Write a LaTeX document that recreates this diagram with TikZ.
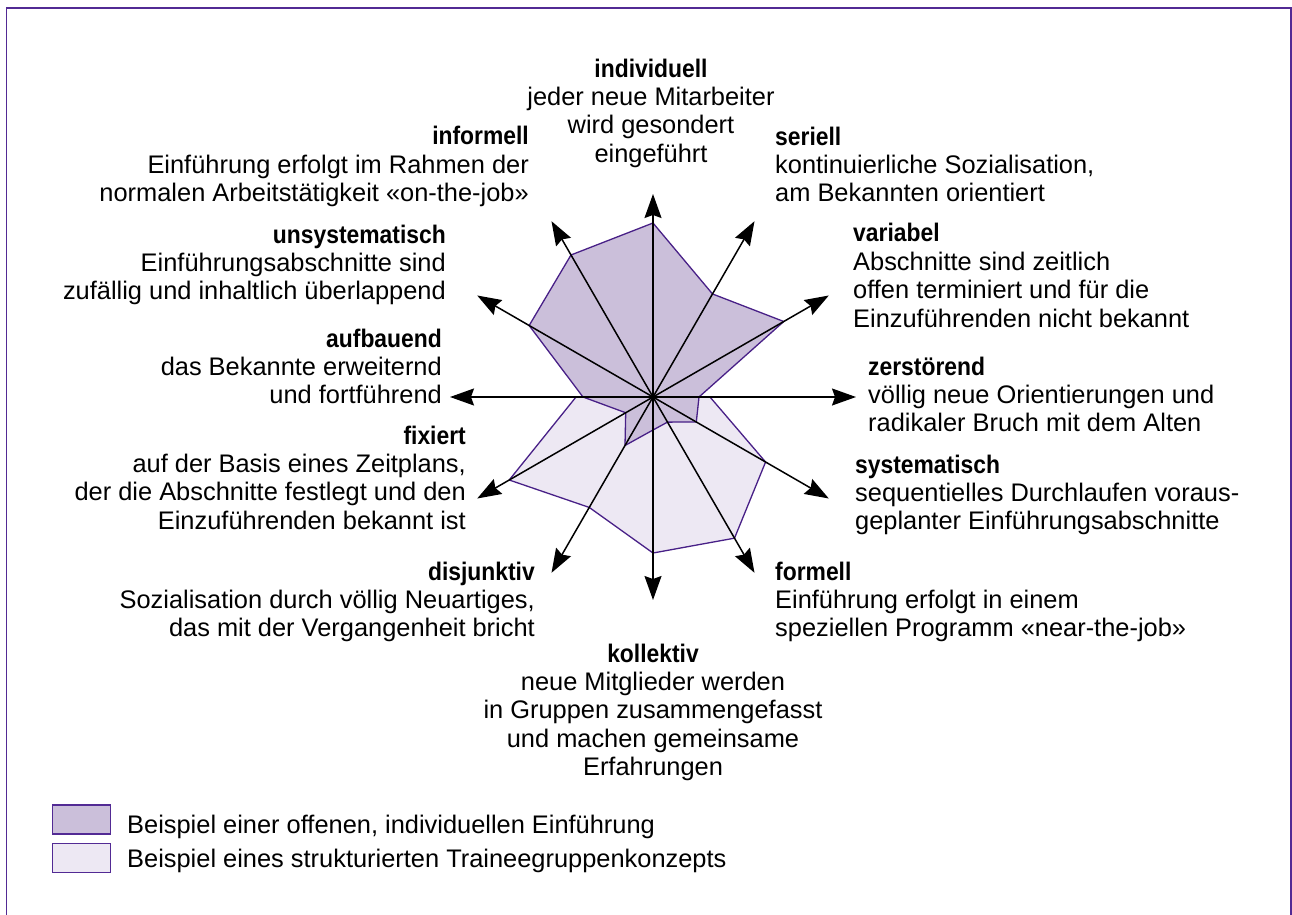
\documentclass[tikz,border=0pt]{standalone}
\usepackage{fontspec}
\setmainfont{Liberation Sans}[BoldFeatures={FakeStretch=0.9}]
\usetikzlibrary{arrows.meta}
\definecolor{framecol}{RGB}{82,42,148}
\definecolor{edgecol}{RGB}{72,32,135}
\definecolor{fillA}{RGB}{203,191,218}
\definecolor{fillB}{RGB}{237,232,243}
\begin{document}
\begin{tikzpicture}[x=1bp,y=-1bp,
  lab/.style={inner sep=0pt, font=\fontsize{25.5}{28.5}\selectfont},
  labR/.style={lab, align=right, anchor=north east},
  labL/.style={lab, align=left, anchor=north west},
  labC/.style={lab, align=center, anchor=north},
  axis/.style={line width=1.5bp, -{Stealth[length=24bp,width=17bp,inset=3bp]}},
  area/.style={draw=edgecol, line width=1.3bp, line join=miter},
  legbox/.style={draw=framecol, line width=1.4bp},
]
\useasboundingbox (0,0) rectangle (1292,915);
\clip (0,0) rectangle (1292,915);
% outer frame (open at the bottom)
\draw[framecol, line width=1.6bp] (6.6,930) |- (1291.2,7.7) -- (1291.2,930);

\coordinate (c) at (653,397);
\begin{scope}[shift={(653,397)}, yscale=-1]
  % structured trainee-group concept
  \draw[area, fill=fillB] (0:57) -- (-30:130) -- (-60:163) -- (-90:156)
    -- (-120:127.5) -- (-150:166) -- (180:77) -- (0,0) -- cycle;
  % open, individual introduction
  \draw[area, fill=fillA] (90:174) -- (60:119) -- (30:151) -- (0:46)
    -- (-30:50) -- (-60:29) -- (-90:33) -- (-120:56) -- (-150:31.5)
    -- (180:70) -- (150:143) -- (120:164) -- cycle;
  \foreach \k in {0,...,11} {
    \coordinate (a\k) at (\k*30:203);
  }
\end{scope}
\foreach \k in {0,...,11} {
  \draw[axis] (c) -- (a\k);
}
\fill (c) circle (2bp);

% axis labels
\node[labC] (tIndiv) at (651,57) {\rule{0pt}{20bp}\textbf{individuell}\\jeder neue Mitarbeiter\\wird gesondert\\eingeführt};
\node[labR] (tInform) at (529,124.5) {\rule{0pt}{20bp}\textbf{informell}\\Einführung erfolgt im Rahmen der\\normalen Arbeitstätigkeit «on-the-job»};
\node[labR] (tUnsys) at (446,223) {\rule{0pt}{20bp}\textbf{unsystematisch}\\Einführungsabschnitte sind\\zufällig und inhaltlich überlappend};
\node[labR] (tAufb) at (442,327) {\rule{0pt}{20bp}\textbf{aufbauend}\\das Bekannte erweiternd\\und fortführend};
\node[labR] (tFix) at (466,424) {\rule{0pt}{20bp}\textbf{fixiert}\\auf der Basis eines Zeitplans,\\der die Abschnitte festlegt und den\\Einzuführenden bekannt ist};
\node[labR] (tDisj) at (535,560) {\rule{0pt}{20bp}\textbf{disjunktiv}\\Sozialisation durch völlig Neuartiges,\\das mit der Vergangenheit bricht};
\node[labL] (tSer) at (775,125) {\rule{0pt}{20bp}\textbf{seriell}\\kontinuierliche Sozialisation,\\am Bekannten orientiert};
\node[labL] (tVar) at (853,221.7) {\rule{0pt}{20bp}\textbf{variabel}\\Abschnitte sind zeitlich\\offen terminiert und für die\\Einzuführenden nicht bekannt};
\node[labL] (tZer) at (868,355) {\rule{0pt}{20bp}\textbf{zerstörend}\\völlig neue Orientierungen und\\radikaler Bruch mit dem Alten};
\node[labL] (tSys) at (855,453) {\rule{0pt}{20bp}\textbf{systematisch}\\sequentielles Durchlaufen voraus-\\geplanter Einführungsabschnitte};
\node[labL] (tForm) at (775,560) {\rule{0pt}{20bp}\textbf{formell}\\Einführung erfolgt in einem\\speziellen Programm «near-the-job»};
\node[labC] (tKoll) at (653,642) {\rule{0pt}{20bp}\textbf{kollektiv}\\neue Mitglieder werden\\in Gruppen zusammengefasst\\und machen gemeinsame\\Erfahrungen};

% legend
\draw[legbox, fill=fillA] (52.7,805) rectangle (110.7,834);
\draw[legbox, fill=fillB] (52.7,843.3) rectangle (110.7,872.3);
\node[lab, anchor=base west] (legA) at (127,833) {Beispiel einer offenen, individuellen Einführung};
\node[lab, anchor=base west] (legB) at (127,867) {Beispiel eines strukturierten Traineegruppenkonzepts};
\end{tikzpicture}
\end{document}
